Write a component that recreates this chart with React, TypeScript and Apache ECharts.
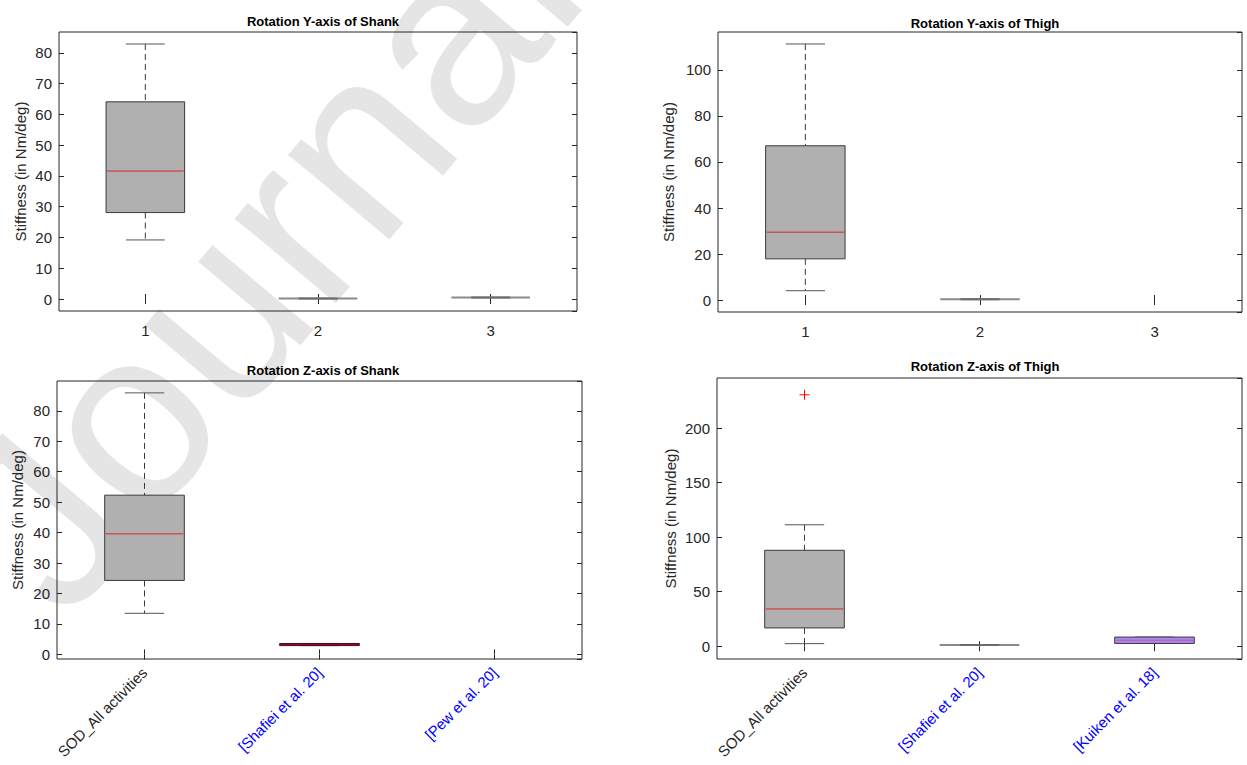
import React, { useEffect, useRef } from 'react';
import * as echarts from 'echarts';

// ---------- data ----------
// box stats: [lower whisker, Q1, median, Q3, upper whisker]
const shankYCategories = ['1', '2', '3'];
const shankYStats = [
  [19.2, 28.1, 41.6, 64.1, 82.9],
  [0.2, 0.2, 0.2, 0.2, 0.2],
  [0.5, 0.5, 0.5, 0.5, 0.5],
];

const thighYCategories = ['1', '2', '3'];
const thighYStats = [
  [4.05, 17.9, 29.5, 67.05, 111.3],
  [0.3, 0.3, 0.3, 0.3, 0.3],
];

const shankZCategories = ['SOD_All activities', '[Shafiei et al. 20]', '[Pew et al. 20]'];
const shankZStats = [
  [13.5, 24.3, 39.6, 52.3, 85.9],
  [2.9, 2.9, 3.2, 3.6, 3.6],
];

const thighZCategories = ['SOD_All activities', '[Shafiei et al. 20]', '[Kuiken et al. 18]'];
const thighZStats = [
  [2.4, 16.8, 34.2, 88.0, 111.4],
  [1.2, 1.2, 1.2, 1.2, 1.2],
  [2.6, 2.6, 5.5, 8.4, 8.4],
];
const thighZOutliers = [[0, 230.6]];

const shankYRange = [-3.9, 86.8];
const thighYRange = [-5.2, 116.5];
const shankZRange = [-1.5, 89.8];
const thighZRange = [-11.7, 246];

// ---------- styling ----------
const FONT = '"Liberation Sans", Arial, Helvetica, sans-serif';
const TEXT = '#262626';
const AXIS = '#262626';

type BoxStyle = { kind: 'box' | 'flat'; fill?: string; edge?: string; median?: string };
const MAIN: BoxStyle = { kind: 'box', fill: '#b0b0b0', edge: '#3a3a3a', median: '#d42a2a' };
const FLAT: BoxStyle = { kind: 'flat' };
const MAROON: BoxStyle = { kind: 'box', fill: '#6e0a36', edge: '#4a0826', median: '#8a0c30' };
const LAVENDER: BoxStyle = { kind: 'box', fill: '#a48ee6', edge: '#3a3a3a', median: '#e03ed8' };

const makeBoxRender = (styles: BoxStyle[]) => (params: any, api: any) => {
  const idx = api.value(0);
  const mn = api.value(1), q1 = api.value(2), md = api.value(3), q3 = api.value(4), mx = api.value(5);
  const st = styles[params.dataIndex] || MAIN;
  const band = api.size([1, 0])[0];
  const bw = band * 0.455;
  const cw = band * 0.225;
  const cx = api.coord([idx, md])[0];
  const y = (v: number) => api.coord([idx, v])[1];
  const children: any[] = [];
  if (st.kind === 'flat') {
    children.push({ type: 'line', shape: { x1: cx - bw / 2, y1: y(md), x2: cx + bw / 2, y2: y(md) }, style: { stroke: '#8a8a8a', lineWidth: 2 } });
    children.push({ type: 'line', shape: { x1: cx - cw / 2, y1: y(md), x2: cx + cw / 2, y2: y(md) }, style: { stroke: '#6a6a6a', lineWidth: 2 } });
    return { type: 'group', children };
  }
  const dash = { stroke: '#3a3a3a', lineWidth: 1, lineDash: [6, 4] };
  if (mx > q3) children.push({ type: 'line', shape: { x1: cx, y1: y(mx), x2: cx, y2: y(q3) }, style: dash });
  if (mn < q1) children.push({ type: 'line', shape: { x1: cx, y1: y(q1), x2: cx, y2: y(mn) }, style: dash });
  children.push({ type: 'line', shape: { x1: cx - cw / 2, y1: y(mx), x2: cx + cw / 2, y2: y(mx) }, style: { stroke: '#555', lineWidth: 1 } });
  children.push({ type: 'line', shape: { x1: cx - cw / 2, y1: y(mn), x2: cx + cw / 2, y2: y(mn) }, style: { stroke: '#555', lineWidth: 1 } });
  children.push({ type: 'rect', shape: { x: cx - bw / 2, y: y(q3), width: bw, height: Math.max(1, y(q1) - y(q3)) }, style: { fill: st.fill, stroke: st.edge, lineWidth: 1 } });
  children.push({ type: 'line', shape: { x1: cx - bw / 2 + 1, y1: y(md), x2: cx + bw / 2 - 1, y2: y(md) }, style: { stroke: st.median, lineWidth: 1 } });
  return { type: 'group', children };
};

const outlierRender = (params: any, api: any) => {
  const p = api.coord([api.value(0), api.value(1)]);
  const h = 5;
  return {
    type: 'group',
    children: [
      { type: 'line', shape: { x1: p[0] - h, y1: p[1], x2: p[0] + h, y2: p[1] }, style: { stroke: '#ff0000', lineWidth: 1 } },
      { type: 'line', shape: { x1: p[0], y1: p[1] - h, x2: p[0], y2: p[1] + h }, style: { stroke: '#ff0000', lineWidth: 1 } },
    ],
  };
};

type Panel = {
  title: string;
  titleX: number;
  titleY: number;
  grid: { left: number; top: number; width: number; height: number };
  categories: string[];
  stats: number[][];
  styles: BoxStyle[];
  range: number[];
  interval: number;
  nameGap: number;
  rotated: boolean;
};

const panels: Panel[] = [
  {
    title: 'Rotation Y-axis of Shank', titleX: 318, titleY: 10,
    grid: { left: 59, top: 32, width: 518, height: 279 },
    categories: shankYCategories, stats: shankYStats, styles: [MAIN, FLAT, FLAT],
    range: shankYRange, interval: 10, nameGap: 31, rotated: false,
  },
  {
    title: 'Rotation Y-axis of Thigh', titleX: 980, titleY: 12,
    grid: { left: 718, top: 32, width: 524, height: 280 },
    categories: thighYCategories, stats: thighYStats, styles: [MAIN, FLAT],
    range: thighYRange, interval: 20, nameGap: 42, rotated: false,
  },
  {
    title: 'Rotation Z-axis of Shank', titleX: 318, titleY: 359,
    grid: { left: 57, top: 381, width: 525, height: 278 },
    categories: shankZCategories, stats: shankZStats, styles: [MAIN, MAROON],
    range: shankZRange, interval: 10, nameGap: 32, rotated: true,
  },
  {
    title: 'Rotation Z-axis of Thigh', titleX: 980, titleY: 355,
    grid: { left: 717, top: 378, width: 525, height: 281 },
    categories: thighZCategories, stats: thighZStats, styles: [MAIN, FLAT, LAVENDER],
    range: thighZRange, interval: 50, nameGap: 39, rotated: true,
  },
];

export default function App() {
  const ref = useRef<HTMLDivElement>(null);
  useEffect(() => {
    document.body.style.margin = '0';
    if (!ref.current) return;
    const chart = echarts.init(ref.current, undefined, { renderer: 'svg' });

    const grids: any[] = [];
    const xAxes: any[] = [];
    const yAxes: any[] = [];
    const series: any[] = [];
    const titles: any[] = [];

    panels.forEach((p, i) => {
      grids.push({ ...p.grid, show: true, borderColor: AXIS, borderWidth: 1, backgroundColor: 'transparent', containLabel: false });
      titles.push({
        text: p.title, left: p.titleX, top: p.titleY, textAlign: 'center',
        textStyle: { fontFamily: FONT, fontSize: 13, fontWeight: 'bold', color: '#000' },
      });
      const tick = { show: true, inside: true, length: 5, alignWithLabel: true, lineStyle: { color: AXIS, width: 1 } };
      const catData = p.categories.map((c, k) => ({
        value: c,
        textStyle: { color: p.rotated && k > 0 ? '#0000ff' : TEXT },
      }));
      xAxes.push({
        gridIndex: i, type: 'category', data: catData, position: 'bottom', boundaryGap: true,
        axisLine: { show: false }, axisTick: tick, splitLine: { show: false },
        axisLabel: p.rotated
          ? { rotate: 45, fontFamily: FONT, fontSize: 15, margin: 11, interval: 0 }
          : { fontFamily: FONT, fontSize: 15, color: TEXT, margin: 12, interval: 0 },
      });
      xAxes.push({
        gridIndex: i, type: 'category', data: p.categories, position: 'top', boundaryGap: true,
        axisLine: { show: false }, axisTick: tick, axisLabel: { show: false }, splitLine: { show: false },
      });
      const yCommon = {
        gridIndex: i, type: 'value', min: p.range[0], max: p.range[1],
        minInterval: p.interval, maxInterval: p.interval,
        axisLine: { show: false }, splitLine: { show: false },
        axisTick: { show: true, inside: true, length: 5, lineStyle: { color: AXIS, width: 1 } },
      };
      yAxes.push({
        ...yCommon, position: 'left',
        axisLabel: { fontFamily: FONT, fontSize: 15, color: TEXT, margin: 7, showMinLabel: false, showMaxLabel: false },
        name: 'Stiffness (in Nm/deg)', nameLocation: 'middle', nameGap: p.nameGap,
        nameTextStyle: { fontFamily: FONT, fontSize: 15, color: TEXT },
      });
      yAxes.push({ ...yCommon, position: 'right', axisLabel: { show: false } });

      series.push({
        type: 'custom', xAxisIndex: i * 2, yAxisIndex: i * 2,
        renderItem: makeBoxRender(p.styles),
        data: p.stats.map((s, k) => [k, ...s]),
        encode: { x: 0, y: [1, 2, 3, 4, 5] },
        z: 3,
      });
    });

    series.push({
      type: 'custom', xAxisIndex: 6, yAxisIndex: 6,
      renderItem: outlierRender, data: thighZOutliers, encode: { x: 0, y: 1 }, z: 4,
    });

    chart.setOption({
      animation: false,
      backgroundColor: '#ffffff',
      title: titles,
      grid: grids,
      xAxis: xAxes,
      yAxis: yAxes,
      series,
      graphic: [
        {
          type: 'text', x: 95, y: 650, rotation: (50 * Math.PI) / 180, z: -10, silent: true,
          style: { text: 'Journal Pre-proof', fontSize: 250, fontFamily: FONT, fill: 'rgba(0,0,0,0.1)', verticalAlign: 'bottom', align: 'left' },
        },
      ],
    });
    return () => chart.dispose();
  }, []);
  return <div ref={ref} style={{ width: 1247, height: 765 }} />;
}
